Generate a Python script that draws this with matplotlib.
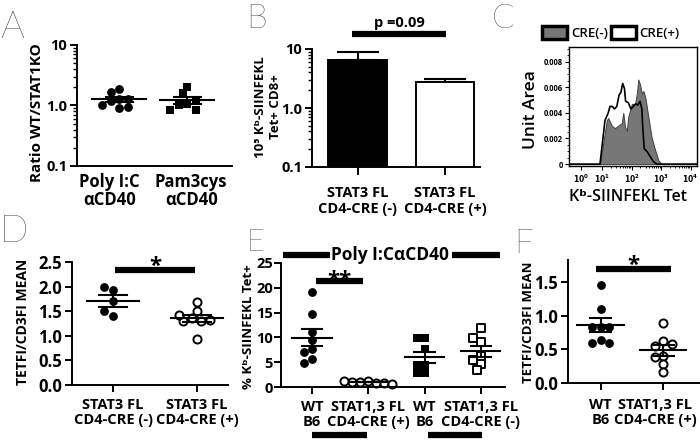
import matplotlib
matplotlib.use('Agg')
import matplotlib.pyplot as plt
import matplotlib.transforms as mtrans
from matplotlib.patches import Patch
from matplotlib.ticker import FixedLocator, MultipleLocator
import numpy as np

plt.rcParams['font.family'] = ['Open Sans', 'DejaVu Sans']
plt.rcParams['font.weight'] = 'bold'
plt.rcParams['axes.linewidth'] = 1.4
plt.rcParams['xtick.major.width'] = 1.4
plt.rcParams['ytick.major.width'] = 1.4

##### data
# A  ratio WT / STAT1KO
a_groups = ['Poly I:C\nαCD40', 'Pam3cys\nαCD40']
a_polyic = [1.30, 1.85, 1.65, 1.20, 1.30, 0.92, 0.95, 1.00]
a_pam3cys = [2.05, 1.60, 1.05, 1.00, 0.85, 0.85, 1.20]
a_yticks = [0.1, 1, 10]
a_yticklabels = ['0.1', '1.0', '10']

# B  bars (mean, upper SEM)
b_groups = ['STAT3 FL\nCD4-CRE (-)', 'STAT3 FL\nCD4-CRE (+)']
b_means = [6.4, 2.8]
b_sem = [2.4, 0.3]
b_pvalue = 'p =0.09'

# C  histograms, x in decades of the logicle display
c_neg_x = [-0.2, 0.93, 1.16, 1.21, 1.33, 1.44, 1.55, 1.67, 1.72, 1.78, 1.84, 1.89, 2.01,
           2.12, 2.18, 2.23, 2.29, 2.35, 2.40, 2.46, 2.57, 2.68, 2.80, 2.91, 3.02, 4.3]
c_neg_y = [0, 0, 0.0034, 0.0036, 0.0030, 0.0028, 0.0030, 0.0032, 0.0040, 0.0029, 0.0026,
           0.0037, 0.0047, 0.0047, 0.0055, 0.0066, 0.0062, 0.0055, 0.0057, 0.0053, 0.0037,
           0.0021, 0.0011, 0.0003, 0, 0]
c_pos_x = [-0.2, 0.93, 1.10, 1.21, 1.27, 1.35, 1.42, 1.50, 1.58, 1.64, 1.70, 1.76, 1.80,
           1.89, 1.98, 2.06, 2.14, 2.21, 2.29, 2.35, 2.38, 2.43, 2.52, 2.63, 2.74, 2.85, 4.3]
c_pos_y = [0, 0, 0.0034, 0.0040, 0.0045, 0.0045, 0.0043, 0.0045, 0.0054, 0.0056, 0.0063,
           0.0059, 0.0049, 0.0048, 0.0043, 0.0045, 0.0047, 0.0046, 0.0049, 0.0043, 0.0029,
           0.0012, 0.0010, 0.0006, 0.0002, 0, 0]
c_labels = ['CRE(-)', 'CRE(+)']
c_yticks = [0, 0.002, 0.004, 0.006, 0.008]
c_yticklabels = ['0', '0.002', '0.004', '0.006', '0.008']
c_xticks = [0.29, 1, 2, 3, 4]          # logicle positions of 10^0..10^4
c_xticklabels = [r'$\mathbf{10^{%d}}$' % k for k in range(5)]

# D  TETFI/CD3FI
d_groups = ['STAT3 FL\nCD4-CRE (-)', 'STAT3 FL\nCD4-CRE (+)']
d_neg = [1.94, 1.99, 1.70, 1.40, 1.50]
d_pos = [1.68, 1.50, 1.36, 1.30, 1.30, 1.33, 1.43, 0.93]

# E  % Kb-SIINFEKL Tet+
e_groups = ['WT\nB6', 'STAT1,3 FL\nCD4-CRE (+)', 'WT\nB6', 'STAT1,3 FL\nCD4-CRE (-)']
e_wt1 = [19.2, 14.7, 11.1, 9.4, 7.6, 7.1, 5.6, 4.9]
e_cre_pos = [1.2, 1.0, 0.8, 1.1, 0.9, 1.3, 0.7]
e_wt2 = [9.8, 9.8, 7.6, 4.4, 2.9, 2.9, 4.4]
e_cre_neg = [11.8, 9.0, 9.8, 6.2, 5.4, 4.6, 3.4]

# F  TETFI/CD3FI
f_groups = ['WT\nB6', 'STAT1,3 FL\nCD4-CRE (+)']
f_wt = [1.46, 1.10, 0.83, 0.83, 0.83, 0.64, 0.60, 0.60]
f_cre = [0.90, 0.62, 0.55, 0.58, 0.40, 0.38, 0.28, 0.16]

##### figure helpers (pixel layout)
W, H = 700, 440
fig = plt.figure(figsize=(7, 4.4), dpi=100)


def box(l, t, r, b):
    return [l / W, 1 - b / H, (r - l) / W, (b - t) / H]


def ftext(x, y, s, **kw):
    fig.text(x / W, 1 - y / H, s, **kw)


def style(ax, xpad=5, xlen=5, ysize=12, xsize=10.5):
    for s in ['top', 'right']:
        ax.spines[s].set_visible(False)
    ax.tick_params(axis='y', direction='out', length=5, labelsize=ysize, pad=2)
    ax.tick_params(axis='x', direction='out', length=xlen, labelsize=xsize, pad=xpad)


def shift_labels(ax, dxs):
    # nudge tick labels sideways by a few pixels
    for lab, dx in zip(ax.get_xticklabels(), dxs):
        lab.set_transform(lab.get_transform() +
                          mtrans.ScaledTranslation(dx / 100, 0, fig.dpi_scale_trans))


def swarm(ax, xc, vals, d_px, overlap=0.85, **kw):
    # Prism-like: put points side by side when they would overlap
    v = np.asarray(vals, float)
    ypix = ax.transData.transform(np.column_stack([np.full(len(v), xc), v]))[:, 1]
    ppu = ax.transData.transform((1, 0))[0] - ax.transData.transform((0, 0))[0]
    placed = []
    xs = []
    for y in ypix:
        cands = [0.0]
        for k in range(1, 20):
            cands += [-k * d_px / 2, k * d_px / 2]
        for o in cands:
            if all((o - po) ** 2 + (y - py) ** 2 >= (overlap * d_px) ** 2 for po, py in placed):
                break
        placed.append((o, y))
        xs.append(xc + o / ppu)
    ax.scatter(xs, v, zorder=2, clip_on=False, **kw)


def mean_sem(ax, xc, vals, half_mean, half_sem, lw=1.5):
    v = np.asarray(vals, float)
    m = v.mean()
    s = v.std(ddof=1) / np.sqrt(len(v))
    ax.plot([xc - half_mean, xc + half_mean], [m, m], color='k', lw=lw, zorder=3)
    ax.plot([xc, xc], [m - s, m + s], color='k', lw=lw, zorder=3)
    for yy in (m - s, m + s):
        ax.plot([xc - half_sem, xc + half_sem], [yy, yy], color='k', lw=lw, zorder=3)


def sig_bar(ax, x0, x1, y, label=None, size=16, dy=0.0, lw=4.5):
    tr = mtrans.blended_transform_factory(ax.transData, ax.transAxes)
    ax.plot([x0, x1], [y, y], color='k', lw=lw, transform=tr, clip_on=False,
            solid_capstyle='butt')
    if label:
        ax.text((x0 + x1) / 2, y + dy, label, transform=tr, ha='center', va='bottom',
                fontsize=size)


def letter(x, y, s, size=24):
    ftext(x, y, s, fontsize=size, fontweight='light', va='baseline', ha='left',
          family=['Lato', 'DejaVu Sans'])


circ = dict(s=40, marker='o', color='k', linewidths=0)
ocirc = dict(s=34, marker='o', facecolor='white', edgecolor='k', linewidths=1.4)
sq = dict(s=36, marker='s', color='k', linewidths=0)
osq = dict(s=30, marker='s', facecolor='white', edgecolor='k', linewidths=1.4)

##### A
axA = fig.add_axes(box(77, 45, 232, 166))
axA.set_yscale('log')
axA.set_ylim(0.1, 10)
axA.set_xlim(-0.62, 1.66)
style(axA, xpad=5, xlen=0, ysize=10.5)
axA.set_yticks(a_yticks)
axA.set_yticklabels(a_yticklabels)
axA.tick_params(axis='y', which='minor', length=3, width=1)
axA.set_xticks([0, 1])
axA.set_xticklabels(a_groups, fontsize=12, linespacing=1.0)
shift_labels(axA, [-10, 4])
swarm(axA, 0, a_polyic, 8.5, **circ)
swarm(axA, 1, a_pam3cys, 8.5, **sq)
mean_sem(axA, 0, a_polyic, 0.4, 0.2)
mean_sem(axA, 1, a_pam3cys, 0.4, 0.2)
ftext(37, 113, 'Ratio WT/STAT1KO', rotation=90, ha='center', va='center', fontsize=11)
letter(0, 38, 'A', 27)

##### B
axB = fig.add_axes(box(312, 49, 480, 167))
axB.set_yscale('log')
axB.set_ylim(0.1, 10)
axB.set_xlim(-0.52, 1.4)
style(axB, xpad=8, xlen=6, ysize=10.5)
axB.bar([0, 1], b_means, width=0.67, color=['k', 'white'], edgecolor='k', lw=1.4,
        zorder=2)
axB.errorbar([0, 1], b_means, yerr=[[0, 0], b_sem], fmt='none', ecolor='k',
             elinewidth=1.5, capsize=15, capthick=1.5, zorder=1)
axB.set_yticks(a_yticks)
axB.set_yticklabels(a_yticklabels)
axB.tick_params(axis='y', which='minor', length=3, width=1)
axB.set_xticks([0, 1])
axB.set_xticklabels(b_groups, linespacing=1.1)
sig_bar(axB, -0.06, 1.01, 1.127, b_pvalue, size=10.5, dy=0.03)
ftext(268, 107, '10⁵ Kᵇ-SIINFEKL\nTet+ CD8+', rotation=90, ha='center', va='center',
      fontsize=9.5, linespacing=1.15)
letter(246, 28, 'B')

##### C
axC = fig.add_axes(box(569, 47, 697, 166))
axC.fill_between(c_neg_x, c_neg_y, color='#777777', edgecolor='#404040', lw=0.7,
                 label=c_labels[0])
axC.plot(c_pos_x, c_pos_y, color='k', lw=1.2)
axC.set_xlim(-0.12, 4.22)
axC.set_ylim(-0.00015, 0.00914)
for s in axC.spines.values():
    s.set_linewidth(1.0)
axC.set_yticks(c_yticks)
axC.set_yticklabels(c_yticklabels)
axC.set_xticks(c_xticks)
axC.set_xticklabels(c_xticklabels)
axC.yaxis.set_minor_locator(MultipleLocator(0.0005))
axC.xaxis.set_minor_locator(FixedLocator(
    [d + np.log10(k) for d in (1, 2, 3) for k in range(2, 10)]))
axC.tick_params(which='major', length=3, width=0.8, labelsize=5.5, pad=1.5)
axC.tick_params(which='minor', length=1.5, width=0.6)
axC.legend(handles=[Patch(facecolor='#777777', edgecolor='k', lw=2.5, label=c_labels[0]),
                    Patch(facecolor='white', edgecolor='k', lw=2.5, label=c_labels[1])],
           loc='lower left', bbox_to_anchor=(-0.21, 1.06), ncol=2, frameon=False,
           handlelength=1.9, handleheight=1.1, handletextpad=0.3, columnspacing=0.2,
           borderaxespad=0, borderpad=0, prop=dict(size=9.5, weight='semibold'))
ftext(531, 110, 'Unit Area', rotation=90, ha='center', va='center', fontsize=12.5,
      fontweight='semibold')
ftext(628, 197, 'Kᵇ-SIINFEKL Tet', ha='center', va='center', fontsize=11.5,
      fontweight='semibold')
letter(492, 28, 'C')

##### D
axD = fig.add_axes(box(72, 262, 228, 385))
axD.set_ylim(0, 2.5)
axD.set_xlim(-0.49, 1.37)
style(axD, xpad=4)
axD.set_yticks([0, 0.5, 1.0, 1.5, 2.0, 2.5])
axD.set_yticklabels(['0.0', '0.5', '1.0', '1.5', '2.0', '2.5'])
axD.set_xticks([0, 1])
axD.set_xticklabels(d_groups, linespacing=1.1)
swarm(axD, 0, d_neg, 9, **circ)
swarm(axD, 1, d_pos, 9, **ocirc)
mean_sem(axD, 0, d_neg, 0.31, 0.17)
mean_sem(axD, 1, d_pos, 0.31, 0.17)
sig_bar(axD, 0.02, 0.98, 0.935, '*', size=16, dy=-0.06)
ftext(23, 322, 'TETFI/CD3FI MEAN', rotation=90, ha='center', va='center', fontsize=10)
letter(0, 242, 'D', 27)

##### E
axE = fig.add_axes(box(281, 263, 505, 387))
axE.set_ylim(0, 25)
axE.set_xlim(-0.55, 3.43)
style(axE, xpad=4, ysize=10.5)
axE.tick_params(axis='y', pad=1)
axE.set_yticks([0, 5, 10, 15, 20, 25])
axE.set_xticks([0, 1, 2, 3])
axE.set_xticklabels(e_groups, linespacing=1.1)
swarm(axE, 0, e_wt1, 8, **circ)
swarm(axE, 1, e_cre_pos, 8, overlap=0.6, **ocirc)
swarm(axE, 2, e_wt2, 8, **sq)
swarm(axE, 3, e_cre_neg, 8, **osq)
for i, v in enumerate([e_wt1, e_cre_pos, e_wt2, e_cre_neg]):
    mean_sem(axE, i, v, 0.35, 0.18)
sig_bar(axE, 0.07, 0.9, 0.855, '**', size=16, dy=-0.08)
sig_bar(axE, -0.52, 0.32, 1.066)
sig_bar(axE, 2.49, 3.34, 1.066)
tr = mtrans.blended_transform_factory(axE.transData, axE.transAxes)
axE.text(1.39, 1.066, 'Poly I:CαCD40', transform=tr, ha='center', va='center',
         fontsize=12.5)
sig_bar(axE, 0, 0.98, -0.387)
sig_bar(axE, 2.06, 3.02, -0.387)
ftext(249, 327, '% Kᵇ-SIINFEKL Tet+', rotation=90, ha='center', va='center', fontsize=9.5)
letter(246, 251, 'E', 22)

##### F
axF = fig.add_axes(box(568, 260, 700, 383))
axF.set_ylim(0, 1.83)
axF.set_xlim(-0.52, 1.59)
style(axF, xpad=6)
axF.set_yticks([0, 0.5, 1.0, 1.5])
axF.set_yticklabels(['0.0', '0.5', '1.0', '1.5'])
axF.set_xticks([0, 1])
axF.set_xticklabels(f_groups, linespacing=1.1)
shift_labels(axF, [0, -8])
swarm(axF, 0, f_wt, 8.5, **circ)
swarm(axF, 1, f_cre, 8.5, **ocirc)
mean_sem(axF, 0, f_wt, 0.37, 0.17)
mean_sem(axF, 1, f_cre, 0.37, 0.17)
sig_bar(axF, -0.07, 1.12, 0.927, '*', size=16, dy=-0.06)
ftext(529, 322, 'TETFI/CD3FI MEAN', rotation=90, ha='center', va='center', fontsize=9.5)
letter(514, 253, 'F')

fig.savefig('out.png', dpi=100)
